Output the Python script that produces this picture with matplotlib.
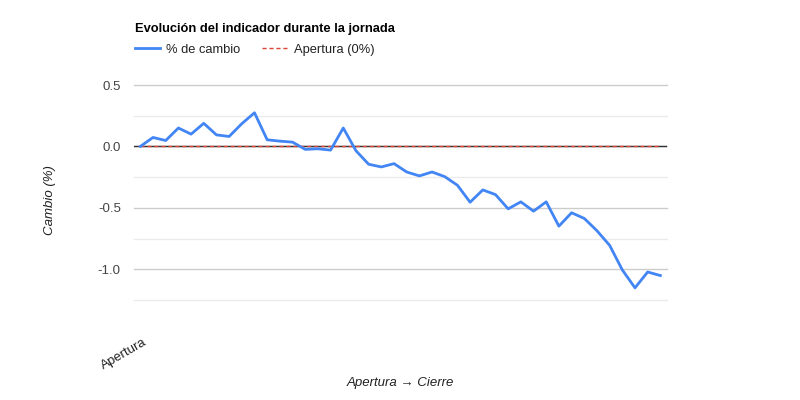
import matplotlib
matplotlib.use('Agg')
import matplotlib.pyplot as plt
import numpy as np

plt.rcParams['font.family'] = ['Liberation Sans', 'DejaVu Sans']

# --------------------  Data ----------------------- #
title = 'Evolución del indicador durante la jornada'
series_label = '% de cambio'
ref_label = 'Apertura (0%)'
first_tick = 'Apertura'
x_title = 'Apertura → Cierre'
y_title = 'Cambio (%)'

cambio = [0.0, 0.073, 0.048, 0.15, 0.10, 0.188, 0.094, 0.081, 0.185, 0.274,
          0.054, 0.043, 0.035, -0.024, -0.019, -0.03, 0.15, -0.035, -0.145, -0.167,
          -0.14, -0.208, -0.24, -0.208, -0.246, -0.316, -0.454, -0.354, -0.392, -0.508,
          -0.451, -0.527, -0.451, -0.649, -0.54, -0.586, -0.686, -0.805, -1.005, -1.151,
          -1.022, -1.051]
apertura = [0.0] * len(cambio)

y_ticks = [0.5, 0.0, -0.5, -1.0]
y_minor = [0.25, -0.25, -0.75, -1.25]

# -----------------------  Plot -------------------------- #
fig = plt.figure(figsize=(8, 4), dpi=100)
ax = fig.add_axes([134 / 800, 1 - 300 / 400, (666.7 - 134) / 800, (300 - 85) / 400])

x = np.arange(len(cambio))
ax.set_xlim(-0.5, len(cambio) - 0.5)
ax.set_ylim(-1.25, 0.5)

for v in y_minor:
    ax.axhline(v, color='#ebebeb', lw=1, zorder=0, clip_on=False)
for v in y_ticks:
    ax.axhline(v, color='#cccccc', lw=1, zorder=0, clip_on=False)
ax.axhline(0, color='#333333', lw=1, zorder=1)

ax.plot(x, cambio, color='#4285f4', lw=2, label=series_label, zorder=3)
ax.plot(x, apertura, color='#db4437', lw=1, ls=(0, (3, 2)), label=ref_label, zorder=2)

ax.set_yticks(y_ticks)
ax.set_yticklabels([f'{v:.1f}' for v in y_ticks])
ax.tick_params(axis='y', length=0, pad=9.5, labelsize=9.5, labelcolor='#444444')
ax.set_xticks([])
for s in ax.spines.values():
    s.set_visible(False)

# first category label, rotated like the original
ax.annotate(first_tick, xy=(0, 0), xycoords=('data', 'axes fraction'),
            xytext=(2, -26), textcoords='offset points', rotation=30,
            ha='right', va='top', rotation_mode='anchor',
            fontsize=9.5, color='#222222')

fig.text(400 / 800, 1 - 383 / 400, x_title, ha='center', va='center',
         fontsize=9.5, style='italic', color='#222222')
fig.text(50 / 800, 1 - 200 / 400, y_title, ha='center', va='center',
         rotation=90, fontsize=9.5, style='italic', color='#222222')

fig.text(135 / 800, 1 - 29 / 400, title, ha='left', va='center',
         fontsize=9.3, fontweight='bold', color='#000000')

fig.legend(loc='center left', bbox_to_anchor=(123 / 800, 1 - 50 / 400),
           ncol=2, frameon=False, fontsize=9.3, handlelength=2.0,
           handletextpad=0.45, columnspacing=1.7, labelcolor='#222222')

fig.savefig('out.png', dpi=100)
